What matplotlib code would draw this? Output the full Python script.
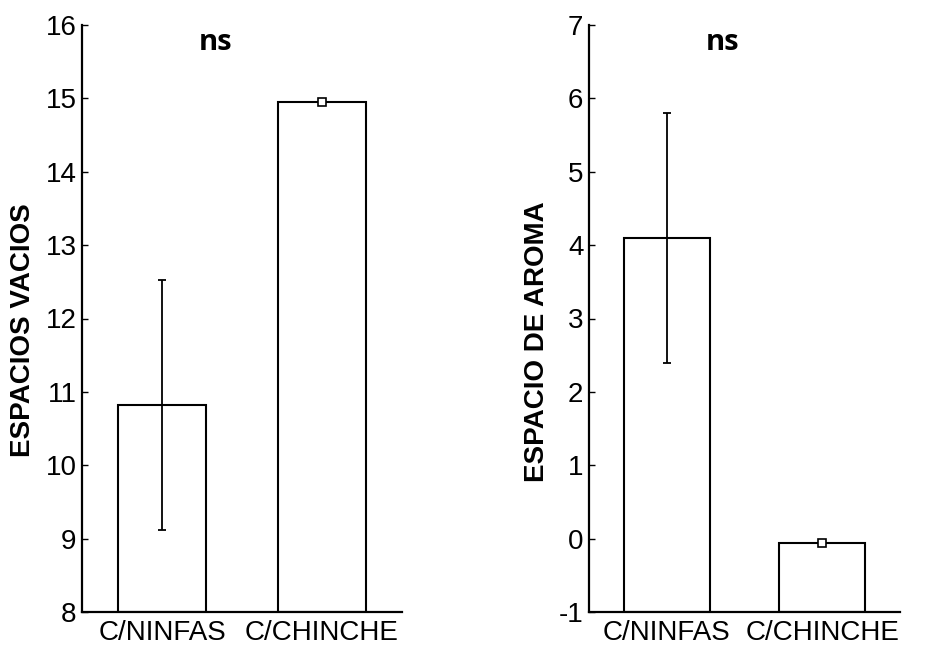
import matplotlib
matplotlib.use("Agg")
import matplotlib.pyplot as plt

categories = ["C/NINFAS", "C/CHINCHE"]

vacios_mean = [10.82, 14.95]
vacios_err = [1.70, 0.03]

aroma_mean = [4.10, -0.06]
aroma_err = [1.70, 0.04]

plt.rcParams['font.family'] = ['Liberation Sans', 'DejaVu Sans']

fig = plt.figure(figsize=(9.46, 6.54), dpi=100)
ax1 = fig.add_axes([82/946, 42/654, 320/946, 587/654])
ax2 = fig.add_axes([589/946, 42/654, 311/946, 587/654])

def draw(ax, means, errs, ylim, ylabel, ticks, label_xy, ns_x):
    x = list(range(len(categories)))
    base = ylim[0]
    heights = [m - base for m in means]
    ax.bar(x, heights, bottom=base, width=0.55, color='white', edgecolor='black', linewidth=1.5, zorder=2)
    ax.errorbar(x, means, yerr=errs, fmt='none', ecolor='black', elinewidth=1.3, capsize=3, capthick=1.3, zorder=3)
    ax.plot([x[1]], [means[1]], marker='s', markersize=5.5, markerfacecolor='white', markeredgecolor='black', markeredgewidth=1.2, linestyle='none', zorder=4)
    ax.set_xlim(-0.5, 1.5)
    ax.set_ylim(*ylim)
    ax.set_yticks(ticks)
    ax.set_yticklabels([str(t) for t in ticks], fontsize=20)
    ax.set_xticks(x)
    ax.set_xticklabels(categories, fontsize=20)
    ax.tick_params(axis='x', length=0, pad=6)
    ax.tick_params(axis='y', direction='in', length=4, width=1, pad=4)
    for s in ['top', 'right']:
        ax.spines[s].set_visible(False)
    for s in ['left', 'bottom']:
        ax.spines[s].set_linewidth(1.6)
    ax.set_ylabel(ylabel, fontsize=20, fontweight='bold')
    ax.yaxis.set_label_coords(*label_xy)
    ax.text(ns_x, 0.995, 'ns', transform=ax.transAxes, ha='center', va='top', fontsize=21, fontweight='bold', family=['Open Sans', 'DejaVu Sans'])

draw(ax1, vacios_mean, vacios_err, (8, 16), 'ESPACIOS VACIOS', list(range(8, 17)), (-0.145, 0.48), 0.416)
draw(ax2, aroma_mean, aroma_err, (-1, 7), 'ESPACIO DE AROMA', list(range(-1, 8)), (-0.125, 0.46), 0.43)

fig.savefig('out.png', dpi=100)
